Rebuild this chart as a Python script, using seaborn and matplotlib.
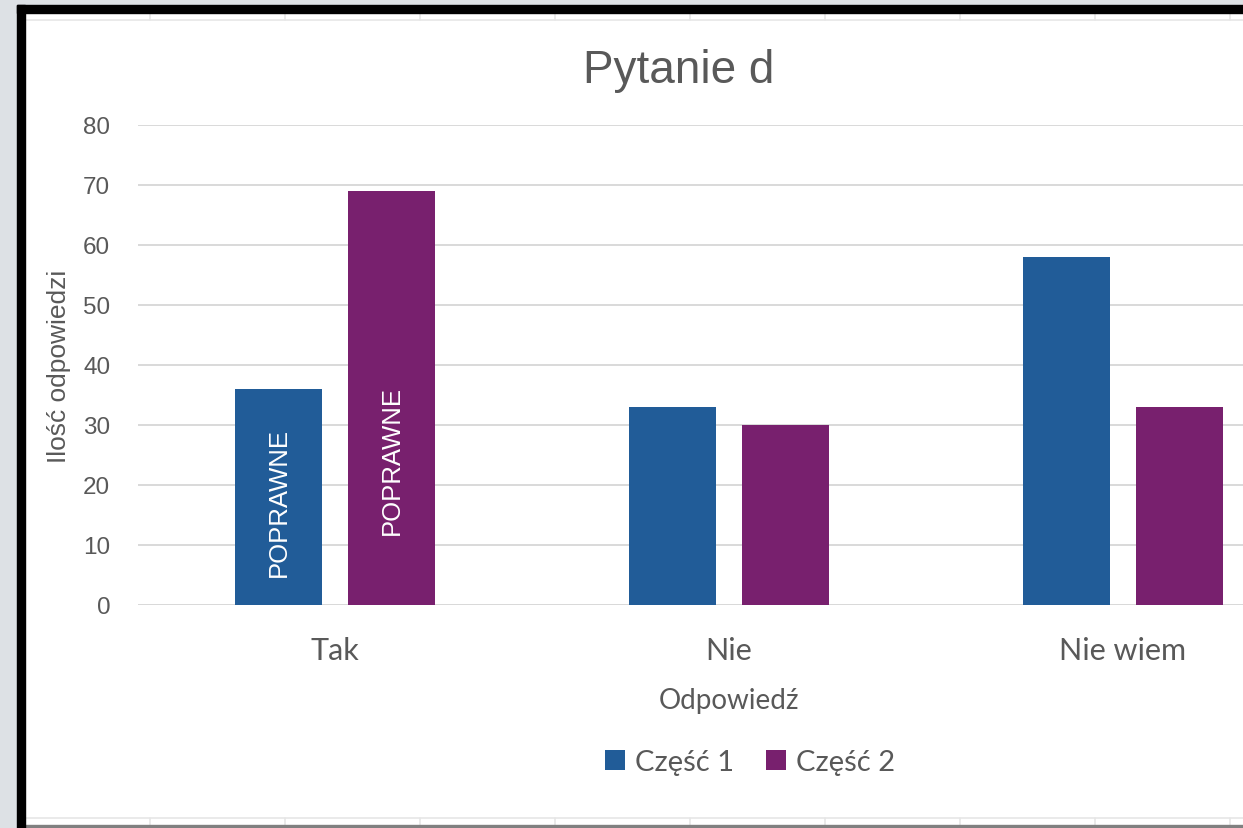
import pandas as pd
import matplotlib
import matplotlib.pyplot as plt
import seaborn as sns
from matplotlib.patches import Rectangle
from matplotlib.lines import Line2D

matplotlib.use('Agg')

# Data
categories = ["Tak", "Nie", "Nie wiem"]
czesc_1 = [36, 33, 58]
czesc_2 = [69, 30, 33]
series_names = ["Część 1", "Część 2"]
yticks = [0, 10, 20, 30, 40, 50, 60, 70, 80]
label_text = "POPRAWNE"
label_y = [17.2, 24.2]  # where the in-bar labels sit (Tak bars)

df = pd.DataFrame({
    "Odpowiedź": categories * 2,
    "Ilość": czesc_1 + czesc_2,
    "Część": [series_names[0]] * 3 + [series_names[1]] * 3,
})

sns.set_style("white")
plt.rcParams['font.family'] = ['Liberation Sans', 'DejaVu Sans']

grey_text = "#595959"
palette = {"Część 1": "#215C98", "Część 2": "#78206E"}

W, H = 1243, 829
fig = plt.figure(figsize=(W / 100, H / 100), dpi=100)
ax = fig.add_axes([138 / W, (H - 606) / H, 1182 / W, 480 / H])

sns.barplot(data=df, x="Odpowiedź", y="Ilość", hue="Część", order=categories,
            hue_order=series_names, palette=palette, width=0.574, gap=0.223,
            saturation=1, ax=ax, edgecolor="none")

ax.set_xlim(-0.5, 2.5)
ax.set_ylim(0, 80)
ax.set_yticks(yticks)
ax.yaxis.grid(True, color="#d9d9d9", linewidth=1.4)
ax.set_axisbelow(True)
for s in ["top", "right", "left", "bottom"]:
    ax.spines[s].set_visible(False)
ax.axhline(0, color="#d9d9d9", linewidth=1.4, zorder=0)

ax.tick_params(axis="y", length=0, pad=20, labelsize=17.5, labelcolor=grey_text)
ax.tick_params(axis="x", length=0, pad=22, labelcolor=grey_text)
for t in ax.get_xticklabels():
    t.set_family(["Lato", "DejaVu Sans"])
    t.set_fontsize(22)

ax.set_ylabel("Ilość odpowiedzi", fontsize=19, color=grey_text, labelpad=9)
ax.set_xlabel("Odpowiedź", fontsize=20, color=grey_text, labelpad=17,
              family=["Lato", "DejaVu Sans"])

# in-bar labels on the "Tak" bars
for cont, yy in zip(ax.containers, label_y):
    p = cont.patches[0]
    ax.text(p.get_x() + p.get_width() / 2, yy, label_text, rotation=90,
            ha="center", va="center", color="white", fontsize=18.5,
            family=["Liberation Sans Narrow", "Liberation Sans"])

fig.text(679 / W, (H - 83) / H, "Pytanie d", ha="center", va="baseline",
         fontsize=33, color=grey_text)

handles, labels = ax.get_legend_handles_labels()
ax.legend_.remove()
fig.legend(handles, labels, loc="center", bbox_to_anchor=(750 / W, (H - 763) / H),
           ncol=2, frameon=False, handlelength=0.68, handleheight=0.68,
           handletextpad=0.35, columnspacing=1.1,
           prop={"family": ["Lato", "DejaVu Sans"], "size": 21},
           labelcolor=grey_text)

# screenshot frame around the chart
fig.add_artist(Rectangle((0, 0), 17 / W, 1, transform=fig.transFigure,
                         color="#dde1e5", zorder=5))
fig.add_artist(Rectangle((0, (H - 6) / H), 1, 6 / H, transform=fig.transFigure,
                         color="#dde1e5", zorder=5))
fig.add_artist(Rectangle((17 / W, 0), 8 / W, (H - 6) / H, transform=fig.transFigure,
                         color="black", zorder=6))
fig.add_artist(Rectangle((17 / W, (H - 14) / H), 1, 8 / H, transform=fig.transFigure,
                         color="black", zorder=6))
fig.add_artist(Rectangle((25 / W, 0), 1, 3 / H, transform=fig.transFigure,
                         color="#808080", zorder=5))
for yy in [H - 21, 10]:
    fig.add_artist(Line2D([25 / W, 1], [yy / H, yy / H], transform=fig.transFigure,
                          color="#e6e6e6", linewidth=1.2, zorder=4))
for xx in range(150, W, 135):
    fig.add_artist(Line2D([xx / W, xx / W], [(H - 21) / H, (H - 14) / H],
                          transform=fig.transFigure, color="#e6e6e6", linewidth=1.2, zorder=4))
    fig.add_artist(Line2D([xx / W, xx / W], [3 / H, 10 / H],
                          transform=fig.transFigure, color="#e6e6e6", linewidth=1.2, zorder=4))

fig.savefig("out.png", dpi=100)
